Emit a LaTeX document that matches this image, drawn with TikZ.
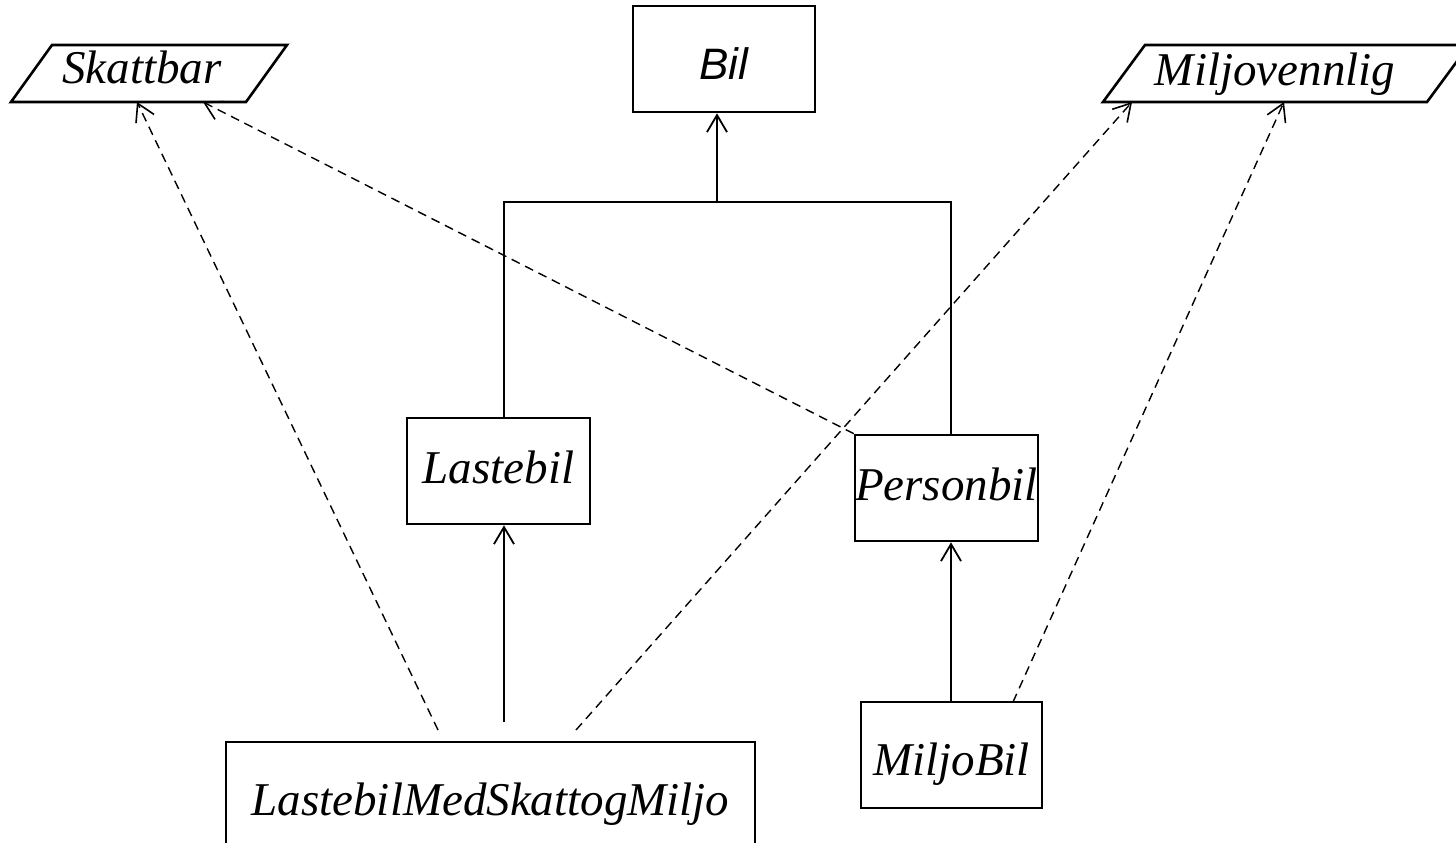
\documentclass[tikz,border=0pt]{standalone}
\usepackage{fontspec}
\setmainfont{Liberation Serif}
\newfontfamily\uisans{Liberation Sans}
\usetikzlibrary{arrows.meta,calc}
\begin{document}
\begin{tikzpicture}[x=1pt,y=-1pt,
  classbox/.style={draw, line width=2.6pt, inner sep=0pt, text depth=0pt,
    font=\fontsize{47pt}{56pt}\selectfont\itshape},
  ifaceshape/.style={draw, line width=2.6pt, line join=miter},
  ifacetext/.style={font=\fontsize{47pt}{56pt}\selectfont\itshape, inner sep=0pt, anchor=base},
  tree/.style={line width=1.8pt},
  inherit/.style={line width=1.8pt, -{Straight Barb[length=17pt,width=20pt]}},
  realize/.style={line width=1.4pt, dash pattern=on 9pt off 6pt,
    -{Straight Barb[length=17pt,width=20pt,line width=1.6pt]}}]
\useasboundingbox (0,0) rectangle (1456,843);

% interfaces
\coordinate (skBL) at (11,102);  \coordinate (skBR) at (246,102);
\coordinate (skTR) at (287,45);  \coordinate (skTL) at (52,45);
\draw[ifaceshape] (skBL) -- (skBR) -- (skTR) -- (skTL) -- cycle;
\node[ifacetext] (sk) at (142,84) {Skattbar};

\coordinate (mvBL) at (1103,102); \coordinate (mvBR) at (1427,102);
\coordinate (mvTR) at (1469,45);  \coordinate (mvTL) at (1145,45);
\draw[ifaceshape] (mvBL) -- (mvBR) -- (mvTR) -- (mvTL) -- cycle;
\node[ifacetext] (mv) at (1275,85) {Miljovennlig};

% classes
\node[classbox, minimum width=182pt, minimum height=106pt, text height=40pt,
  font=\fontsize{44pt}{52pt}\selectfont\uisans\itshape] (bil) at (724,59) {Bil};
\node[classbox, minimum width=183pt, minimum height=106pt, text height=24pt] (lb) at (498.5,471) {Lastebil};
\node[classbox, minimum width=181pt, minimum height=106pt, text height=24pt] (pb) at (946.5,488) {Personbil};
\node[classbox, minimum width=181pt, minimum height=106pt, text height=40pt] (mb) at (951.5,755) {MiljoBil};
\node[classbox, minimum width=529pt, minimum height=120pt, text height=26pt] (lm) at (490.5,802) {LastebilMedSkattogMiljo};

% inheritance tree
\coordinate (jl) at (504,202);
\coordinate (jm) at (717,202);
\coordinate (jr) at (951,202);
\draw[tree] (jl |- lb.north) -- (jl) -- (jr) -- (jr |- pb.north);
\draw[inherit] (jm) -- (jm |- bil.south);

\coordinate (lmUp) at (504,722);
\draw[inherit] (lmUp) -- (lmUp |- lb.south);
\draw[inherit] (jr |- mb.north) -- (jr |- pb.south);

% interface realisations
\coordinate (skA) at (137,102);  \coordinate (skB) at (203,102);
\coordinate (mvA) at (1132,102); \coordinate (mvB) at (1284,102);
\coordinate (lmA) at (438,730);  \coordinate (lmB) at (576,730);
\coordinate (mbA) at (1013,702);

\draw[realize] (lmA) -- (skA);
\draw[realize] (pb.north west) -- (skB);
\draw[realize] (lmB) -- (mvA);
\draw[realize] (mbA) -- (mvB);
\end{tikzpicture}
\end{document}
